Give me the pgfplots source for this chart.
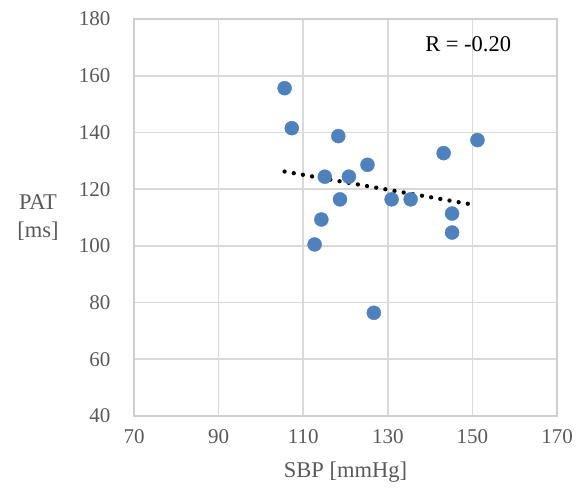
\documentclass[border=0pt]{standalone}
\usepackage{fontspec}
\setmainfont{Liberation Serif}
\usepackage{pgfplots}
\pgfplotsset{compat=1.18}
\definecolor{markblue}{HTML}{4F81BD}
\definecolor{gridgray}{HTML}{D9D9D9}
\definecolor{boxgray}{HTML}{CFCFCF}
\definecolor{labelgray}{HTML}{595959}
\begin{document}
\begin{tikzpicture}
\useasboundingbox (0pt,0pt) rectangle (580pt,490pt); % fix page to the reference proportions
\begin{axis}[
    at={(134pt,74pt)}, anchor=south west,
    scale only axis, width=423pt, height=397pt,
    xmin=70, xmax=170, ymin=40, ymax=180,
    xtick={70,90,...,170}, ytick={40,60,...,180},
    grid=major,
    major grid style={draw=gridgray, line width=1.6pt},
    axis line style={draw=boxgray, line width=1.8pt},
    major tick length=0pt,
    /pgf/number format/assume math mode=true,
    ticklabel style={font=\fontsize{21}{24}\selectfont, text=labelgray},
    xticklabel style={yshift=-10pt},
    yticklabel style={xshift=-20pt},
    xlabel={SBP [mmHg]},
    ylabel={PAT\\{[ms]}},
    every axis x label/.style={at={(rel axis cs:0.5,0)}, anchor=north, yshift=-42pt,
        font=\fontsize{22.5}{28}\selectfont, text=labelgray},
    every axis y label/.style={at={(rel axis cs:0,0.5)}, anchor=center, xshift=-96pt,
        align=center, font=\fontsize{22.5}{28}\selectfont, text=labelgray},
  ]
% measurements
\addplot[only marks, mark=*, mark size=7pt, mark options={draw=markblue, fill=markblue}]
  coordinates {
    (105.6,155.6) (107.3,141.5) (118.3,138.7) (151.2,137.3)
    (143.2,132.7) (125.2,128.6) (115.1,124.4) (120.8,124.4)
    (118.7,116.4) (130.9,116.4) (135.4,116.4) (145.2,111.4)
    (145.2,104.7) (114.3,109.3) (112.7,100.5) (126.7,76.4)
  };
% linear trendline
\addplot[black, line width=4.3pt, line cap=round, dash pattern=on 0pt off 9.3pt]
  coordinates {(105.6,126.2) (150.6,114.4)};
\node[font=\fontsize{22.5}{28}\selectfont] at (axis cs:149,171) {R = -0.20};
\end{axis}
\end{tikzpicture}
\end{document}
